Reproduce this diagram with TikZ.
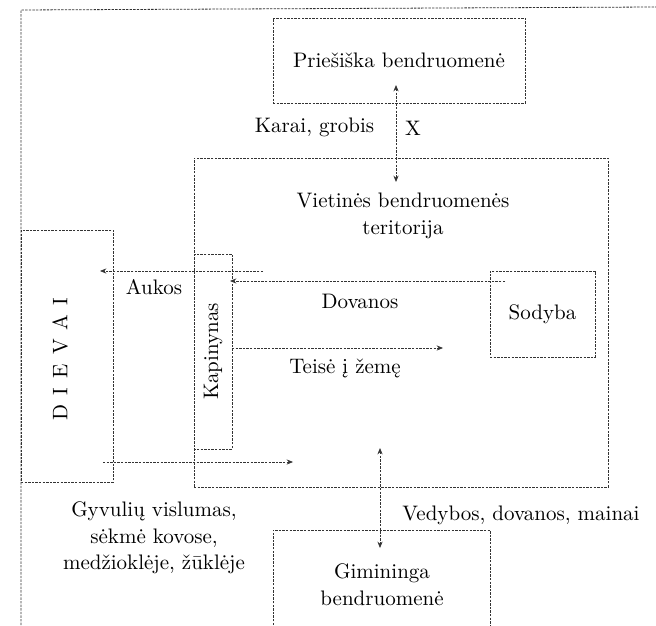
\documentclass[tikz,border=0pt]{standalone}
\usetikzlibrary{arrows.meta}

\begin{document}
\begin{tikzpicture}[x=0.5pt, y=-0.5pt,
	font=\fontsize{10.5}{13.3}\selectfont,
	line/.style={draw=black!80, line width=0.4pt, dash pattern=on 1.2pt off 0.6pt},
	box/.style={line, inner sep=0pt, align=center},
	arr/.style={line, >={Stealth[length=3.2pt, width=2.6pt]}},
	txt/.style={inner sep=0pt, align=center}]

	\useasboundingbox (0,0) rectangle (656,625);

	\draw[line] (21,625) -- (21,10) -- (656,7);

	\node[box, minimum width=126pt, minimum height=42.5pt] (priesiska) at (399,60.5) {Priešiška bendruomenė};
	\node[box, minimum width=207pt, minimum height=164.5pt] (teritorija) at (401,322.5) {};
	\node[box, minimum width=126pt, minimum height=46pt, rotate=90] (dievai) at (67,356) {};
	\node[box, minimum width=97.5pt, minimum height=19pt, rotate=90] (kapinynas) at (213,351.5) {Kapinynas};
	\node[box, minimum width=52.5pt, minimum height=43pt] (sodyba) at (542.5,314) {Sodyba};
	\draw[line] (273,625) |- (490,530) -- (490,625);

	\node[txt] (vietine) at (403,216) {Vietinės bendruomenės\\teritorija};
	\node[txt, rotate=90] (dievail) at (60,359) {D\hspace{4.6pt}I\hspace{4.6pt}E\hspace{4.6pt}V\hspace{4.6pt}A\hspace{4.6pt}I};
	\node[txt] (gimininga) at (382,585) {Gimininga\\bendruomenė};
	\node[txt] (karai) at (314.5,127) {Karai, grobis};
	\node[txt] (x) at (413,128) {X};
	\node[txt] (aukos) at (154,287) {Aukos};
	\node[txt] (dovanos) at (360,301) {Dovanos};
	\node[txt] (teise) at (345,368) {Teisė į žemę};
	\node[txt] (gyvuliu) at (154,538) {Gyvulių vislumas,\\sėkmė kovose,\\medžioklėje, žūklėje};
	\node[txt] (vedybos) at (521,515) {Vedybos, dovanos, mainai};

	\coordinate (karai1) at (396,85);
	\coordinate (karai2) at (396,182);
	\coordinate (aukos1) at (263,271);
	\coordinate (aukos2) at (100,271);
	\coordinate (dovanos1) at (505,281);
	\coordinate (dovanos2) at (230,281);
	\coordinate (teise1) at (232,348);
	\coordinate (teise2) at (443,348);
	\coordinate (gyvuliu1) at (103,462);
	\coordinate (gyvuliu2) at (293,462);
	\coordinate (vedybos1) at (380,448);
	\coordinate (vedybos2) at (380,548);

	\draw[arr, <->] (karai1) -- (karai2);
	\draw[arr, ->] (aukos1) -- (aukos2);
	\draw[arr, ->] (dovanos1) -- (dovanos2);
	\draw[arr, ->] (teise1) -- (teise2);
	\draw[arr, ->] (gyvuliu1) -- (gyvuliu2);
	\draw[arr, <->] (vedybos1) -- (vedybos2);

\end{tikzpicture}
\end{document}
